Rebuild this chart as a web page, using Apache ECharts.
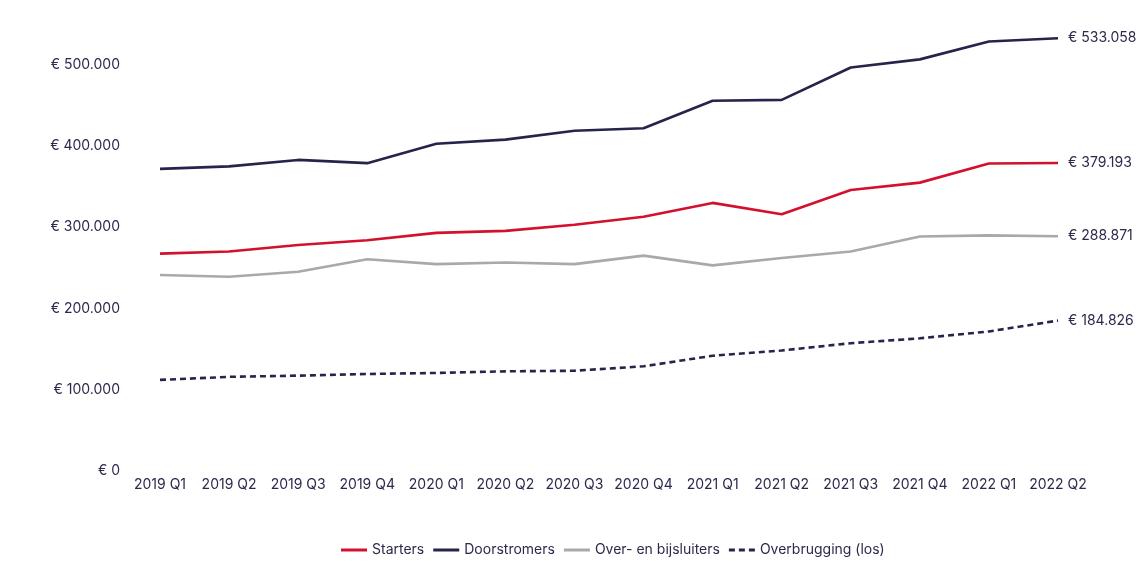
<!DOCTYPE html>
<html>
<head>
<meta charset="utf-8">
<script src="https://cdn.jsdelivr.net/npm/echarts@6/dist/echarts.min.js"></script>
<style>html,body{margin:0;padding:0;background:#fff}#c{width:1145px;height:569px}</style>
</head>
<body>
<div id="c"></div>
<script>
const categories = ['2019 Q1','2019 Q2','2019 Q3','2019 Q4','2020 Q1','2020 Q2','2020 Q3','2020 Q4','2021 Q1','2021 Q2','2021 Q3','2021 Q4','2022 Q1','2022 Q2'];
const starters = [267500, 270000, 278000, 284000, 293000, 295500, 303000, 313000, 330000, 316000, 346000, 355000, 378500, 379193];
const doorstromers = [372000, 375000, 383000, 379000, 403000, 408000, 419000, 422000, 456000, 457000, 497000, 507000, 529000, 533058];
const overBijsluiters = [241000, 239000, 245000, 260500, 254500, 256500, 254500, 265000, 253000, 262000, 270000, 288500, 290000, 288871];
const overbrugging = [111700, 115500, 117000, 119000, 120300, 122300, 123000, 128500, 141500, 148000, 157000, 163000, 171500, 184826];
const yTicks = [0, 100000, 200000, 300000, 400000, 500000];

const TXT = '#2b2a4c';
const FONT = 'Inter';
const SOLID_ICON = 'path://M0,0H26V3H0Z';
const DASH_ICON = 'path://M0,0H6V3H0Z M10,0H16V3H10Z M20,0H26V3H20Z';
function fmt(v) {
  return '€ ' + String(Math.round(v)).replace(/\B(?=(\d{3})+(?!\d))/g, '.');
}
function mk(name, data, color, dashed) {
  return {
    name: name, type: 'line', data: data, symbol: 'none', smooth: false,
    lineStyle: { color: color, width: 2.6, type: dashed ? [6, 4] : 'solid' },
    itemStyle: { color: color },
    endLabel: { show: true, distance: 10, color: TXT, fontFamily: FONT, fontSize: 14,
      formatter: p => fmt(p.value) },
    emphasis: { disabled: true }
  };
}
const chart = echarts.init(document.getElementById('c'));
chart.setOption({
  animation: false,
  backgroundColor: '#fff',
  grid: { left: 160, right: 87, top: 24.5, bottom: 98.5 },
  xAxis: {
    type: 'category', data: categories, boundaryGap: false,
    axisLine: { show: false }, axisTick: { show: false },
    axisLabel: { color: TXT, fontFamily: FONT, fontSize: 14, margin: 7, interval: 0 }
  },
  yAxis: {
    type: 'value', min: 0, max: 550000, interval: 100000,
    axisLine: { show: false }, axisTick: { show: false }, splitLine: { show: false },
    axisLabel: { color: TXT, fontFamily: FONT, fontSize: 14, margin: 40,
      formatter: v => yTicks.indexOf(v) >= 0 ? fmt(v) : '' }
  },
  legend: {
    left: 336, top: 538, itemWidth: 26, itemHeight: 3, itemGap: 9,
    textStyle: { color: TXT, fontFamily: FONT, fontSize: 14 },
    data: [
      { name: 'Starters', icon: SOLID_ICON },
      { name: 'Doorstromers', icon: SOLID_ICON },
      { name: 'Over- en bijsluiters', icon: SOLID_ICON },
      { name: 'Overbrugging (los)', icon: DASH_ICON }
    ]
  },
  series: [
    mk('Starters', starters, '#d3102d', false),
    mk('Doorstromers', doorstromers, '#25244a', false),
    mk('Over- en bijsluiters', overBijsluiters, '#a9a9a9', false),
    mk('Overbrugging (los)', overbrugging, '#25244a', true)
  ]
});
</script>
</body>
</html>
